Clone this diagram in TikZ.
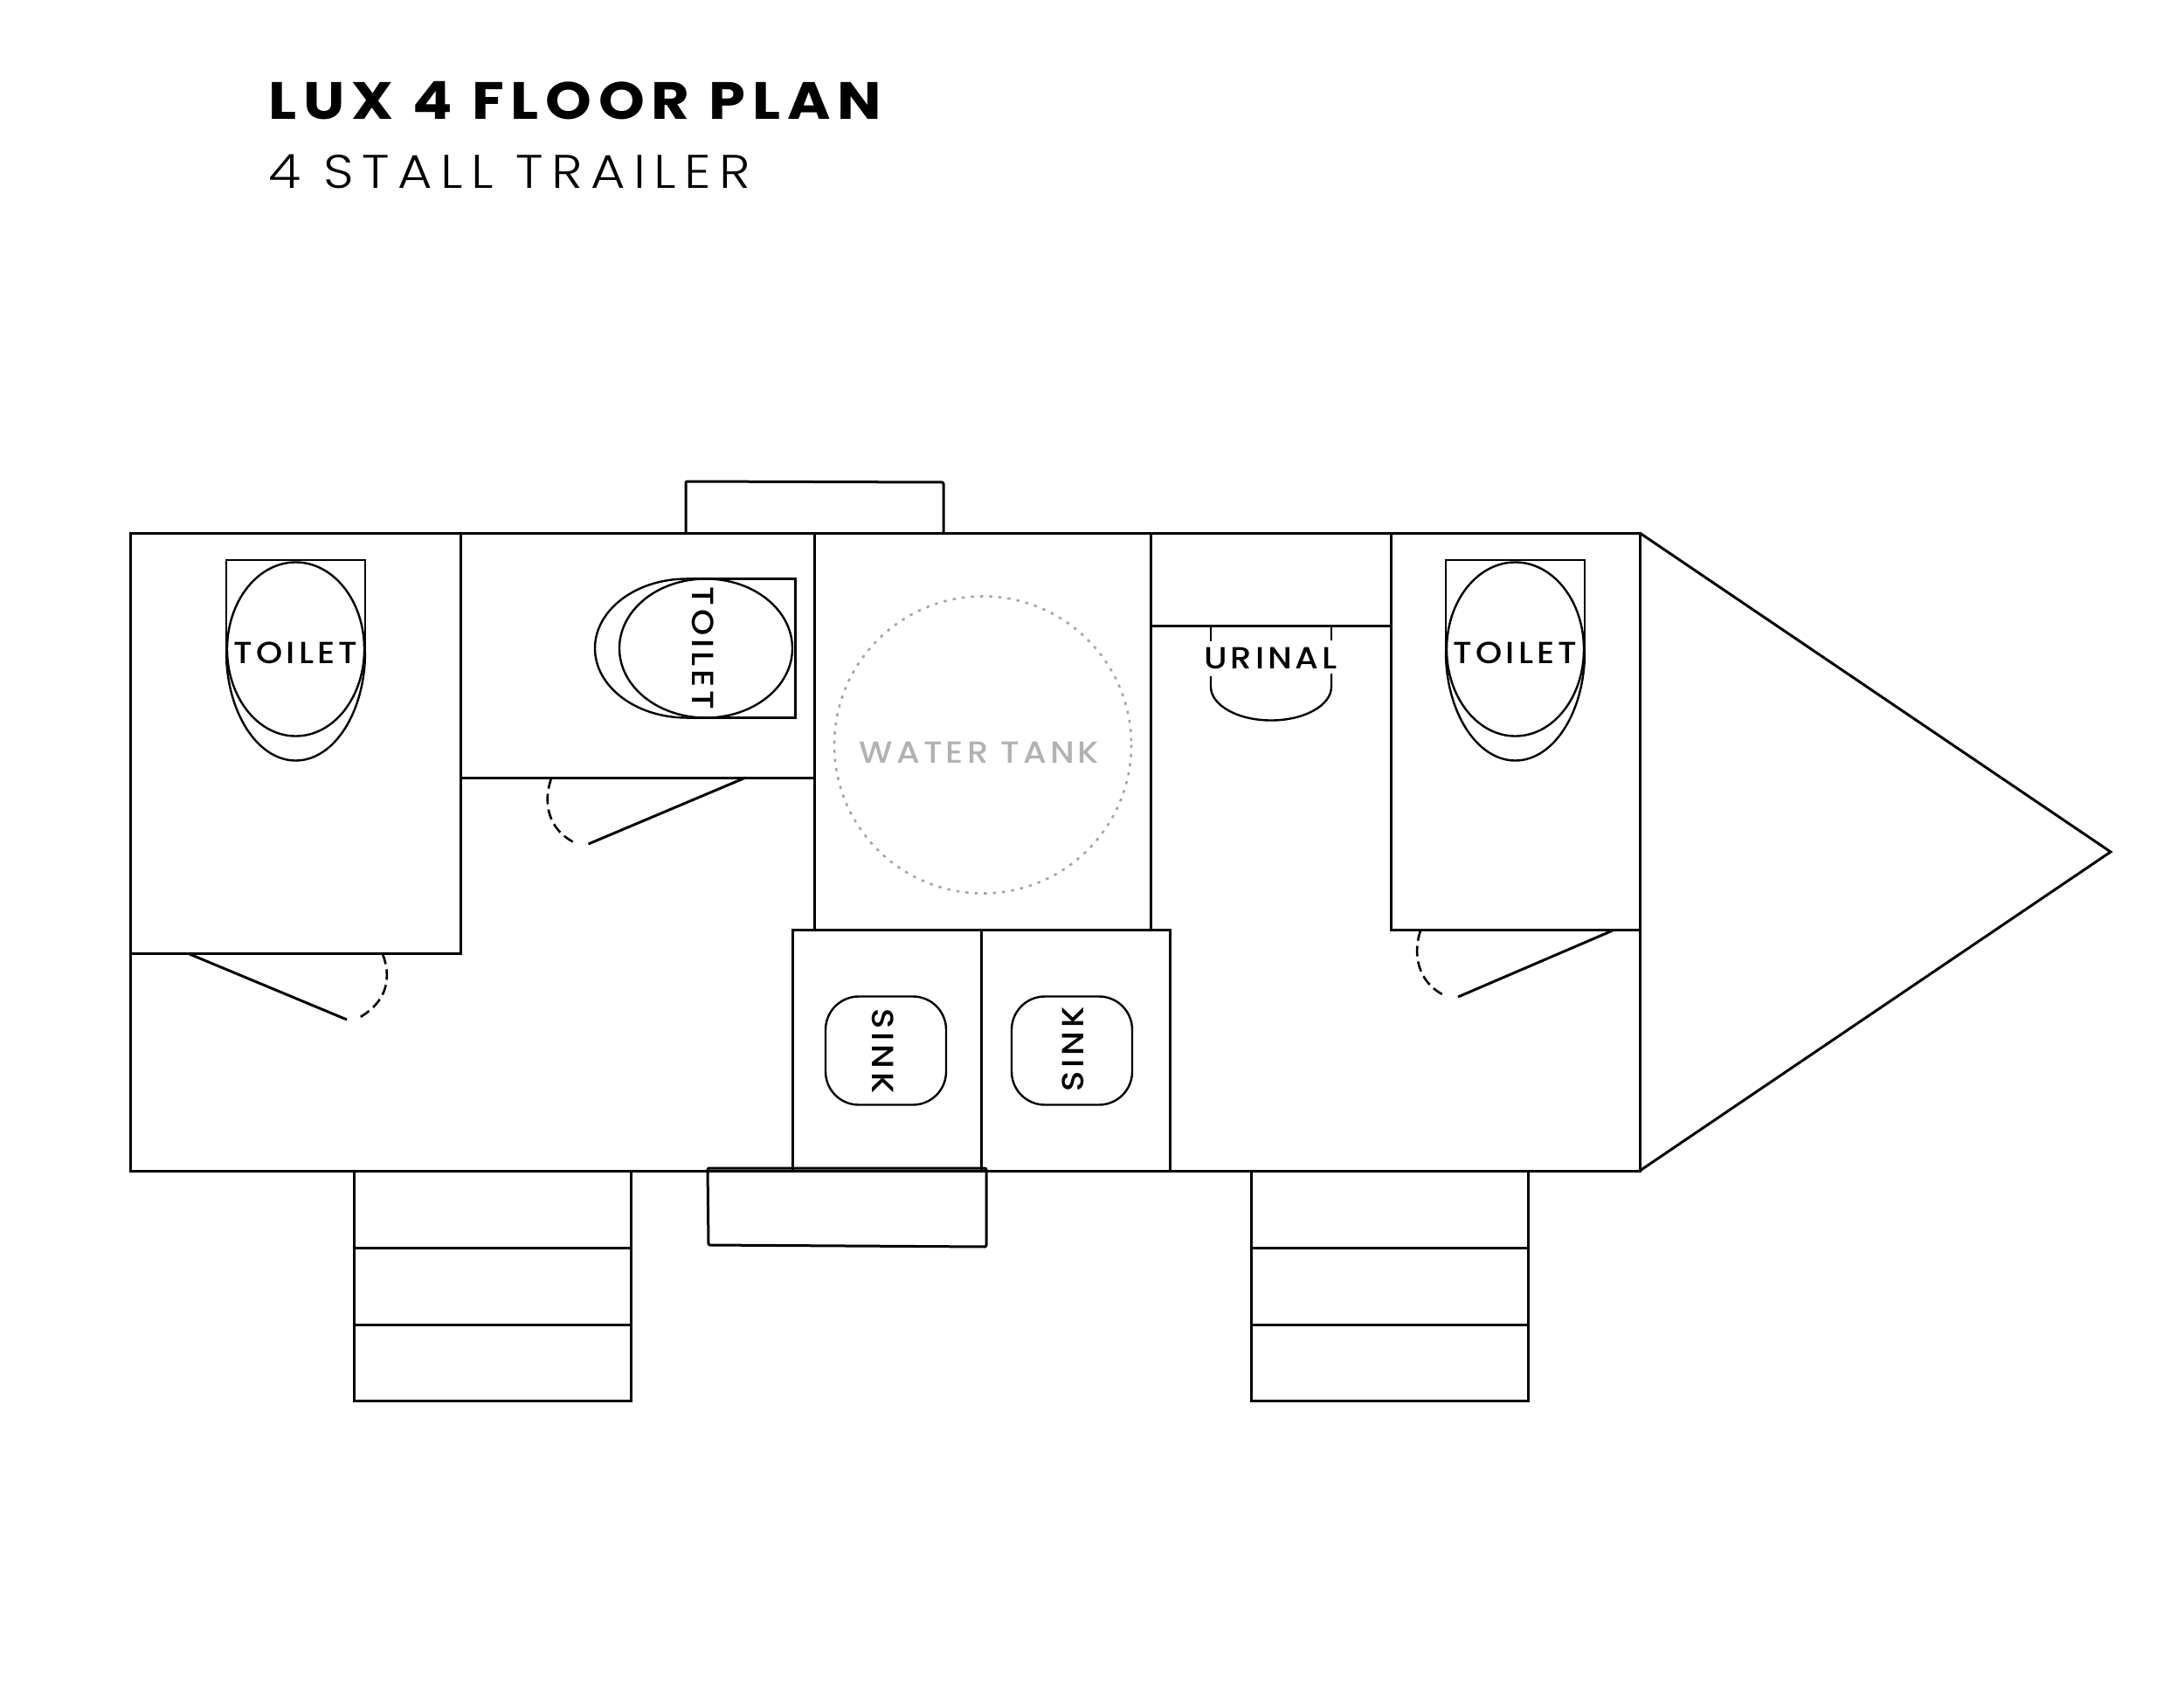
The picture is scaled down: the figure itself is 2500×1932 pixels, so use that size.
\documentclass[tikz,border=0pt]{standalone}
\usepackage{fontspec}
\newfontfamily\titlefont[FakeStretch=1.12,LetterSpace=13]{Poppins}
\newfontfamily\subtitlefont[FakeStretch=1.12,LetterSpace=17.5]{Poppins Light}
\newfontfamily\labelfont[FakeStretch=1.1,LetterSpace=11.5]{Poppins Medium}

\begin{document}
\begin{tikzpicture}[x=1pt, y=-1pt, line width=3pt,
  fixture/.style = {line width=2.4pt},
  swing/.style = {line width=2.6pt, dash pattern=on 12pt off 6pt},
  tag/.style = {inner sep=0pt, font=\labelfont\fontsize{35}{35}\selectfont},
  tanktag/.style = {tag, text=black!30}]
\useasboundingbox (0,0) rectangle (2500,1932);

\node (title) [anchor=base west, inner sep=0pt, font=\titlefont\bfseries\fontsize{60}{60}\selectfont] at (306,136) {LUX 4 FLOOR PLAN};
\node (subtitle) [anchor=base west, inner sep=0pt, font=\subtitlefont\fontsize{54}{54}\selectfont] at (306,215) {4 STALL TRAILER};

\draw (149.5,610) rectangle (1877,1340);
\draw (1877,610) -- (2416,975) -- (1877,1340);
\draw (149.5,1091.5) -- (527,1091.5) -- (527,610);
\draw (527,890.5) -- (932,890.5);
\draw (932,610) -- (932,1064.5) (1317,610) -- (1317,1064.5);
\draw (1317,716) -- (1592,716);
\draw (1592,610) -- (1592,1064.5) -- (1877,1064.5);
\draw (907,1064.5) rectangle (1339,1340);
\draw (1123,1064.5) -- (1123,1340);
\draw[rounded corners=2pt] (785,610) -- (785,551) -- (1080,552) -- (1080,610);
\draw[rounded corners=2pt] (810,1337) -- (811,1425) -- (1129,1427) -- (1129,1337) -- cycle;

\foreach \stepx in {405,1432} {
  \draw (\stepx,1340) rectangle +(317.5,88.5);
  \draw (\stepx,1428.5) rectangle +(317.5,88);
  \draw (\stepx,1516.5) rectangle +(317.5,87);
}

\foreach \bowlx/\bowlname in {338.5/one,1734.5/four} {
  \draw[fixture] (\bowlx-79.5,746) -- (\bowlx-79.5,641) -- (\bowlx+79.5,641) -- (\bowlx+79.5,746);
  \draw[fixture] (\bowlx,743) ellipse [x radius=78.5, y radius=99.5];
  \draw[fixture] (\bowlx-79.5,746) arc [start angle=180, end angle=0, x radius=79.5, y radius=124.5];
  \node (toilet\bowlname) [tag] at (\bowlx,747) {TOILET};
}
\draw[fixture] (786,662.5) -- (910.5,662.5) -- (910.5,821.5) -- (786,821.5);
\draw[fixture] (808,742) ellipse [x radius=99, y radius=79.5];
\draw[fixture] (786,662.5) arc [start angle=270, end angle=90, x radius=105, y radius=79.5];
\node (toilettwo) [tag, rotate=-90] at (805,742) {TOILET};

\draw[fixture] (1386,716) -- (1386,734) (1524,716) -- (1524,733);
\draw[fixture] (1386,774) -- (1386,786) arc [start angle=180, end angle=0, x radius=69, y radius=38.5] -- (1524,771);
\node (urinal) [tag] at (1454.5,753) {URINAL};

\draw[black!35, line width=2.6pt, dash pattern=on 3.5pt off 7pt] (1125,852.5) circle (170);
\node (tank) [tanktag] at (1121,861) {WATER TANK};

\draw[fixture, rounded corners=38pt] (945,1140.5) rectangle (1083,1264.5);
\draw[fixture, rounded corners=38pt] (1158,1140.5) rectangle (1296,1264.5);
\node (sinkleft) [tag, rotate=-90] at (1011,1203) {SINK};
\node (sinkright) [tag, rotate=90] at (1228.5,1201) {SINK};

\draw (217,1092) -- (397,1167);
\draw[swing] (438,1092) .. controls (451,1126) and (437,1151) .. (409,1166);
\draw (853.5,890) -- (673.5,966);
\draw[swing] (631,891) .. controls (619,926) and (633,954) .. (661,966);
\draw (1846,1065) -- (1669,1141);
\draw[swing] (1626,1065) .. controls (1615,1099) and (1628,1128) .. (1655,1140);
\end{tikzpicture}
\end{document}
